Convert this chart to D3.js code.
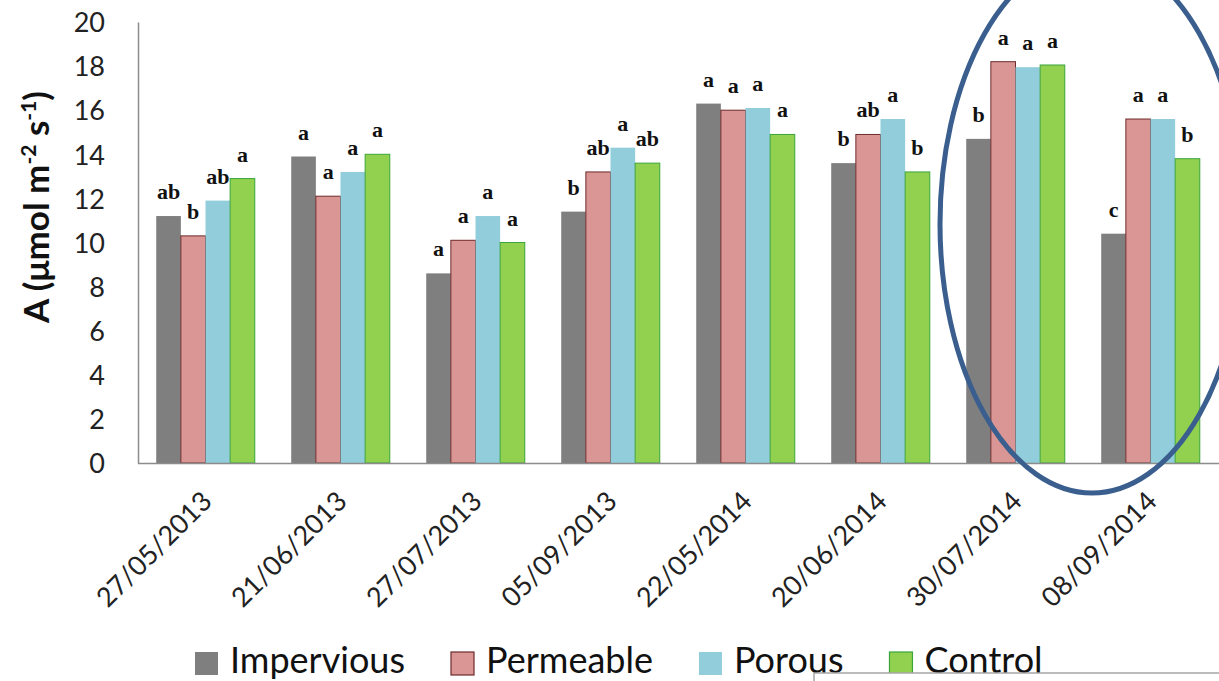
<!DOCTYPE html>
<html>
<head>
<meta charset="utf-8">
<script src="https://cdn.jsdelivr.net/npm/d3@7"></script>
<style>
  body { margin: 0; background: #fff; }
  svg { display: block; }
</style>
</head>
<body>
<svg id="chart" width="1219" height="681"></svg>
<script>
// Net photosynthesis (A) per sampling date and pavement treatment
const dates = ["27/05/2013", "21/06/2013", "27/07/2013", "05/09/2013",
               "22/05/2014", "20/06/2014", "30/07/2014", "08/09/2014"];
const treatments = ["Impervious", "Permeable", "Porous", "Control"];

const impervious = [11.2, 13.9, 8.6, 11.4, 16.3, 13.6, 14.7, 10.4];
const permeable  = [10.3, 12.1, 10.1, 13.2, 16.0, 14.9, 18.2, 15.6];
const porous     = [11.9, 13.2, 11.2, 14.3, 16.1, 15.6, 17.95, 15.6];
const control    = [12.9, 14.0, 10.0, 13.6, 14.9, 13.2, 18.05, 13.8];

// Significance letters (same order as the series above)
const lettersImpervious = ["ab", "a", "a", "b",  "a", "b",  "b", "c"];
const lettersPermeable  = ["b",  "a", "a", "ab", "a", "ab", "a", "a"];
const lettersPorous     = ["ab", "a", "a", "a",  "a", "a",  "a", "a"];
const lettersControl    = ["a",  "a", "a", "ab", "a", "b",  "a", "b"];

const yTicks = [0, 2, 4, 6, 8, 10, 12, 14, 16, 18, 20];

const seriesValues = [impervious, permeable, porous, control];
const seriesLetters = [lettersImpervious, lettersPermeable, lettersPorous, lettersControl];

const fills   = ["#7f7f7f", "#d99694", "#92cddc", "#92d050"];
const strokes = ["none",    "#6e2a2a", "none",    "#3aa53a"];

const svg = d3.select("#chart");
const plotLeft = 138, plotRight = 1218, plotTop = 22, plotBottom = 463;

const x0 = d3.scaleBand().domain(dates).range([plotLeft, plotRight])
  .paddingInner(0.27).paddingOuter(0.135);
const x1 = d3.scaleBand().domain(treatments).range([0, x0.bandwidth()]);
const y = d3.scaleLinear().domain([0, 20]).range([plotBottom, plotTop]);

// Y axis
const yAxis = svg.append("g")
  .attr("transform", `translate(${plotLeft},0)`)
  .call(d3.axisLeft(y).tickValues(yTicks).tickSize(0).tickSizeOuter(0).tickPadding(33));
yAxis.select(".domain").attr("stroke", "#8c8c8c").attr("stroke-width", 1.5);
yAxis.selectAll("text")
  .attr("font-family", "Lato, 'Open Sans', sans-serif")
  .attr("font-size", 27).attr("fill", "#222").attr("dy", "0.36em");

// Bars
const rows = [];
dates.forEach((d, i) => treatments.forEach((t, j) => {
  rows.push({ date: d, treatment: t, j, value: seriesValues[j][i], letter: seriesLetters[j][i] });
}));

svg.append("g").selectAll("rect").data(rows).join("rect")
  .attr("x", d => x0(d.date) + x1(d.treatment))
  .attr("y", d => y(d.value))
  .attr("width", x1.bandwidth())
  .attr("height", d => y(0) - y(d.value))
  .attr("fill", d => fills[d.j])
  .attr("stroke", d => strokes[d.j])
  .attr("stroke-width", 1);

// Letters above bars
svg.append("g").selectAll("text").data(rows).join("text")
  .attr("x", d => x0(d.date) + x1(d.treatment) + x1.bandwidth() / 2)
  .attr("y", d => y(d.value) - 17)
  .attr("text-anchor", "middle")
  .attr("font-family", "'Liberation Serif', 'Times New Roman', serif")
  .attr("font-weight", "bold")
  .attr("font-size", 22)
  .attr("fill", "#111")
  .text(d => d.letter);

// X axis
const xAxis = svg.append("g")
  .attr("transform", `translate(0,${plotBottom})`)
  .call(d3.axisBottom(x0).tickSize(0).tickSizeOuter(0));
xAxis.select(".domain").attr("stroke", "#8c8c8c").attr("stroke-width", 1.5)
  .attr("d", `M${plotLeft},0.5H1219`);
xAxis.selectAll("text")
  .attr("font-family", "Lato, 'Open Sans', sans-serif")
  .attr("font-size", 27).attr("fill", "#222")
  .attr("text-anchor", "end")
  .attr("dy", 0).attr("y", 0)
  .attr("transform", `translate(8,40) rotate(-45)`);

// Y axis title
const title = svg.append("text")
  .attr("transform", `translate(49,207) rotate(-90)`)
  .attr("text-anchor", "middle")
  .attr("font-family", "Lato, 'Open Sans', sans-serif")
  .attr("font-weight", "bold")
  .attr("font-size", 35)
  .attr("fill", "#111");
title.append("tspan").text("A (μmol m");
title.append("tspan").attr("font-size", 21).attr("dy", -13).text("-2");
title.append("tspan").attr("dy", 13).text(" s");
title.append("tspan").attr("font-size", 21).attr("dy", -13).text("-1");
title.append("tspan").attr("dy", 13).text(")");

// Legend
const legend = svg.append("g");
let lx = 195;
treatments.forEach((t, j) => {
  legend.append("rect")
    .attr("x", lx).attr("y", 652).attr("width", 23).attr("height", 23)
    .attr("fill", fills[j])
    .attr("stroke", strokes[j]).attr("stroke-width", 1.2);
  const label = legend.append("text")
    .attr("x", lx + 35).attr("y", 673)
    .attr("font-family", "Lato, 'Open Sans', sans-serif")
    .attr("font-size", 36).attr("fill", "#111")
    .text(t);
  lx += 35 + label.node().getComputedTextLength() + 46;
});

// Highlight ellipse around the summer/autumn 2014 dates
const ex = (x0(dates[6]) + x0.bandwidth() + x0(dates[7])) / 2 + 9;
svg.append("ellipse")
  .attr("cx", ex).attr("cy", 224)
  .attr("rx", 152).attr("ry", 269)
  .attr("fill", "none")
  .attr("stroke", "#3a5e8e")
  .attr("stroke-width", 5);

// Overlapping white panel at the lower right
svg.append("rect")
  .attr("x", 814).attr("y", 673).attr("width", 420).attr("height", 30)
  .attr("fill", "#fff").attr("stroke", "#a6a6a6").attr("stroke-width", 1.5);
</script>
</body>
</html>
